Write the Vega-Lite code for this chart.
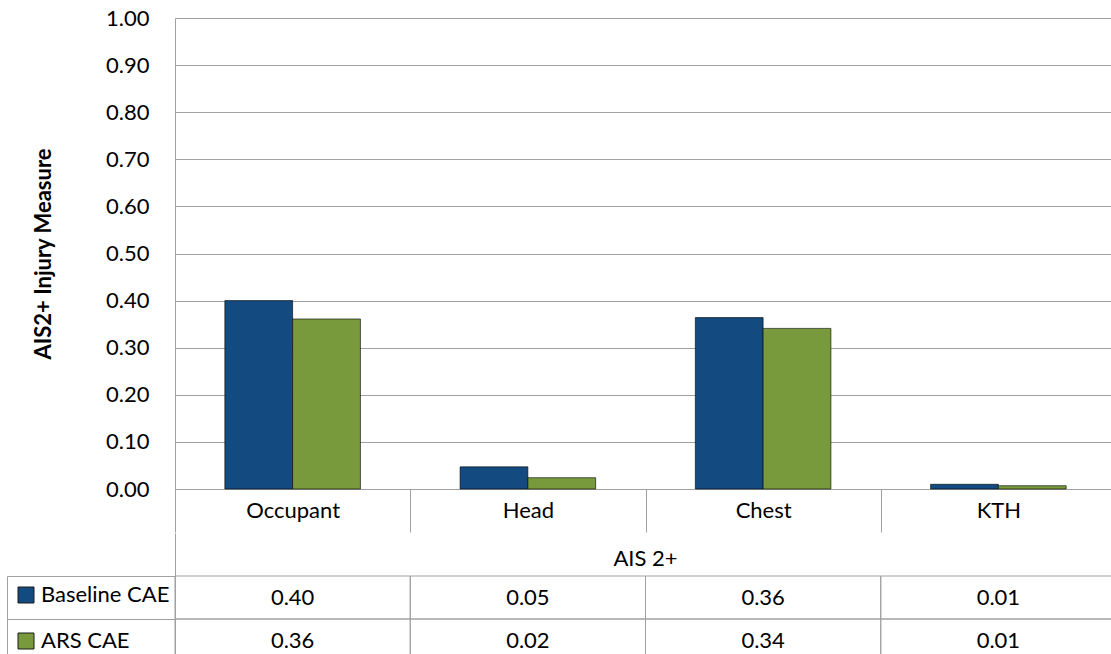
{
  "$schema": "https://vega.github.io/schema/vega-lite/v6.json",
  "padding": {"left": 6, "top": 7, "right": 0, "bottom": 0},
  "config": {
    "font": "Lato",
    "view": {"stroke": null},
    "axis": {"labelFont": "Lato", "titleFont": "Lato"},
    "legend": {"labelFont": "Lato"}
  },
  "datasets": {
    "inj": [
      {"category": "Occupant", "series": "Baseline CAE", "value": 0.400},
      {"category": "Occupant", "series": "ARS CAE", "value": 0.361},
      {"category": "Head", "series": "Baseline CAE", "value": 0.047},
      {"category": "Head", "series": "ARS CAE", "value": 0.024},
      {"category": "Chest", "series": "Baseline CAE", "value": 0.364},
      {"category": "Chest", "series": "ARS CAE", "value": 0.341},
      {"category": "KTH", "series": "Baseline CAE", "value": 0.010},
      {"category": "KTH", "series": "ARS CAE", "value": 0.007}
    ]
  },
  "spacing": 0,
  "vconcat": [
    {
      "width": 941,
      "height": 471,
      "data": {"name": "inj"},
      "mark": {"type": "bar", "stroke": "#000000", "strokeOpacity": 0.6, "strokeWidth": 1},
      "encoding": {
        "x": {
          "field": "category", "type": "nominal",
          "scale": {"domain": ["Occupant", "Head", "Chest", "KTH"], "paddingInner": 0, "paddingOuter": 0},
          "axis": {"title": null, "domain": false, "grid": false, "ticks": true, "tickBand": "extent", "tickSize": 43, "tickColor": "#a0a0a0", "labelPadding": -32, "labelFontSize": 22, "labelColor": "#000000", "labelAngle": 0}
        },
        "xOffset": {
          "field": "series", "type": "nominal",
          "scale": {"domain": ["Baseline CAE", "ARS CAE"], "paddingInner": 0, "paddingOuter": 0.735}
        },
        "y": {
          "field": "value", "type": "quantitative",
          "scale": {"domain": [0, 1], "nice": false},
          "axis": {"values": [0, 0.1, 0.2, 0.3, 0.4, 0.5, 0.6, 0.7, 0.8, 0.9, 1.0], "format": ".2f", "title": "AIS2+ Injury Measure", "titleFontSize": 22, "titleFontWeight": "bold", "titleColor": "#000000", "titlePadding": 50, "labelFontSize": 22, "labelColor": "#000000", "labelPadding": 26, "ticks": false, "tickSize": 0, "domainColor": "#a0a0a0", "gridColor": "#a0a0a0"}
        },
        "color": {
          "field": "series", "type": "nominal",
          "scale": {"domain": ["Baseline CAE", "ARS CAE"], "range": ["#134a80", "#789a3d"]},
          "legend": null
        }
      }
    },
    {
      "width": 941,
      "height": 129,
      "encoding": {
        "x": {
          "field": "category", "type": "nominal",
          "scale": {"domain": ["Occupant", "Head", "Chest", "KTH"], "paddingInner": 0, "paddingOuter": 0},
          "axis": null
        },
        "y": {
          "field": "series", "type": "nominal",
          "scale": {"domain": ["AIS 2+", "Baseline CAE", "ARS CAE"], "paddingInner": 0, "paddingOuter": 0},
          "axis": {"title": null, "labels": false, "grid": false, "domain": true, "domainColor": "#a0a0a0", "ticks": true, "tickSize": 168, "tickColor": "#a0a0a0", "bandPosition": 0,
                   "tickOpacity": {"condition": {"test": "datum.value === 'AIS 2+'", "value": 0}, "value": 1}}
        }
      },
      "layer": [
        {
          "data": {"name": "inj"},
          "mark": {"type": "rect", "fillOpacity": 0, "stroke": "#a0a0a0", "strokeWidth": 1}
        },
        {
          "data": {"name": "inj"},
          "mark": {"type": "text", "fontSize": 22, "fill": "#000000"},
          "encoding": {"text": {"field": "value", "type": "quantitative", "format": ".2f"}}
        },
        {
          "data": {"values": [{"series": "AIS 2+"}]},
          "mark": {"type": "text", "fontSize": 22, "fill": "#000000", "dy": 4},
          "encoding": {
            "x": {"datum": "Head", "bandPosition": 1},
            "text": {"field": "series", "type": "nominal"}
          }
        },
        {
          "data": {"name": "inj"},
          "mark": {"type": "square", "opacity": 0},
          "encoding": {
            "color": {
              "field": "series", "type": "nominal",
              "scale": {"domain": ["Baseline CAE", "ARS CAE"], "range": ["#134a80", "#789a3d"]},
              "legend": {"orient": "none", "legendX": -168, "legendY": 43, "title": null, "symbolType": "square", "symbolSize": 256, "symbolOpacity": 1, "symbolStrokeColor": "#1a1a1a", "symbolStrokeWidth": 1, "labelFontSize": 22, "labelColor": "#000000", "labelOffset": 4, "labelLimit": 300, "padding": 8, "rowPadding": 24, "strokeColor": "#a0a0a0",
                "encode": {"legend": {"update": {"strokeDash": {"value": [0, 404, 400]}}}}}
            }
          }
        }
      ]
    }
  ],
  "resolve": {"scale": {"x": "independent", "y": "independent"}, "legend": {"color": "independent"}}
}
